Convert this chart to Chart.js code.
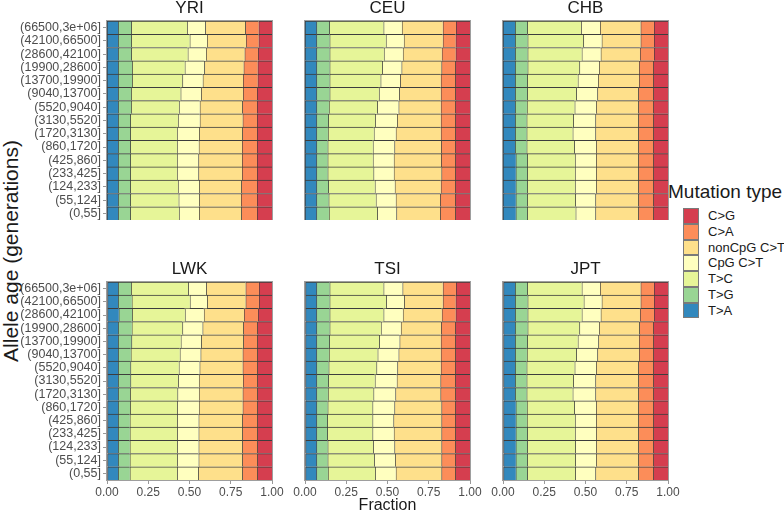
<!DOCTYPE html>
<html><head><meta charset="utf-8">
<script src="https://cdn.jsdelivr.net/npm/chart.js@4.4.0/dist/chart.umd.min.js"></script>
<style>
html,body{margin:0;padding:0;background:#fff;width:784px;height:514px;overflow:hidden;font-family:"Liberation Sans",Arial,sans-serif;}
canvas{display:block;position:absolute;}
.txt{position:absolute;white-space:nowrap;color:#1a1a1a;}
</style></head><body>
<div class="txt" id="ytitle" style="left:10px;top:251px;font-size:21px;line-height:21px;transform:translate(-50%,-50%) rotate(-90deg);">Allele age (generations)</div>
<div id="legend"></div>
<script>
const ageBins = ["(66500,3e+06]","(42100,66500]","(28600,42100]","(19900,28600]","(13700,19900]","(9040,13700]","(5520,9040]","(3130,5520]","(1720,3130]","(860,1720]","(425,860]","(233,425]","(124,233]","(55,124]","(0,55]"];
const mutationTypes = ["T>A","T>G","T>C","CpG C>T","nonCpG C>T","C>A","C>G"];
const typeColors = ["#3288BD","#99D594","#E6F598","#FFFFBF","#FEE08B","#FC8D59","#D53E4F"];
const xTicks = [0, 0.25, 0.5, 0.75, 1];
const populations = ["YRI","CEU","CHB","LWK","TSI","JPT"];

const YRI_TA = [.067,.067,.067,.067,.067,.067,.067,.067,.067,.067,.067,.067,.067,.067,.067];
const YRI_TG = [.080,.080,.080,.085,.085,.079,.079,.074,.074,.074,.074,.074,.074,.074,.074];
const YRI_TC = [.338,.354,.342,.319,.305,.300,.290,.289,.283,.283,.283,.283,.289,.293,.295];
const YRI_CPG = [.111,.105,.111,.119,.123,.124,.126,.132,.134,.132,.130,.130,.128,.124,.122];
const YRI_NONCPG = [.242,.236,.234,.238,.244,.254,.258,.260,.262,.262,.264,.264,.256,.254,.256];
const YRI_CA = [.081,.077,.081,.085,.089,.085,.089,.087,.089,.091,.091,.091,.095,.097,.095];
const YRI_CG = [.081,.081,.085,.087,.087,.091,.091,.091,.091,.091,.091,.091,.091,.091,.091];

const CEU_TA = [.069,.069,.069,.069,.069,.069,.069,.069,.069,.069,.069,.069,.069,.069,.069];
const CEU_TG = [.078,.080,.080,.080,.080,.080,.076,.072,.070,.068,.068,.068,.072,.074,.076];
const CEU_TC = [.329,.341,.329,.319,.309,.299,.293,.284,.278,.274,.274,.278,.282,.286,.293];
const CEU_CPG = [.111,.109,.115,.117,.119,.123,.129,.133,.133,.131,.127,.123,.121,.121,.116];
const CEU_NONCPG = [.248,.236,.236,.242,.246,.252,.256,.265,.273,.283,.287,.289,.279,.269,.265];
const CEU_CA = [.080,.078,.084,.084,.088,.088,.088,.088,.088,.086,.086,.084,.088,.092,.092];
const CEU_CG = [.085,.087,.087,.089,.089,.089,.089,.089,.089,.089,.089,.089,.089,.089,.089];

const CHB_TA = [.073,.073,.073,.073,.073,.073,.073,.073,.073,.073,.077,.077,.077,.077,.077];
const CHB_TG = [.074,.076,.076,.076,.074,.074,.072,.070,.070,.070,.070,.070,.070,.070,.070];
const CHB_TC = [.326,.338,.328,.314,.306,.297,.289,.283,.279,.289,.289,.289,.289,.291,.293];
const CHB_CPG = [.115,.111,.115,.119,.123,.128,.130,.134,.138,.132,.128,.128,.128,.122,.120];
const CHB_NONCPG = [.246,.236,.238,.242,.248,.248,.256,.260,.260,.256,.256,.256,.256,.260,.260];
const CHB_CA = [.081,.081,.085,.087,.087,.091,.091,.091,.091,.091,.091,.091,.091,.091,.091];
const CHB_CG = [.085,.085,.085,.089,.089,.089,.089,.089,.089,.089,.089,.089,.089,.089,.089];

const LWK_TA = [.067,.067,.071,.067,.067,.067,.067,.067,.067,.067,.067,.067,.067,.067,.067];
const LWK_TG = [.079,.083,.081,.083,.081,.077,.075,.075,.073,.073,.071,.071,.071,.071,.071];
const LWK_TC = [.346,.352,.320,.307,.299,.297,.293,.289,.287,.285,.287,.287,.287,.287,.287];
const LWK_CPG = [.109,.105,.115,.122,.124,.126,.126,.126,.130,.132,.130,.130,.130,.130,.128];
const LWK_NONCPG = [.239,.233,.243,.247,.255,.255,.261,.267,.265,.265,.265,.265,.265,.265,.267];
const LWK_CA = [.081,.081,.085,.085,.085,.089,.089,.087,.089,.089,.091,.091,.091,.091,.091];
const LWK_CG = [.079,.079,.085,.089,.089,.089,.089,.089,.089,.089,.089,.089,.089,.089,.089];

const TSI_TA = [.069,.069,.069,.069,.069,.069,.069,.069,.069,.069,.069,.069,.069,.069,.069];
const TSI_TG = [.080,.080,.080,.080,.078,.076,.074,.072,.070,.068,.066,.066,.068,.068,.070];
const TSI_TC = [.327,.343,.327,.311,.303,.295,.290,.282,.276,.272,.274,.274,.276,.282,.286];
const TSI_CPG = [.115,.109,.117,.121,.123,.127,.127,.133,.133,.133,.127,.129,.129,.127,.125];
const TSI_NONCPG = [.244,.234,.236,.244,.250,.256,.263,.265,.273,.285,.291,.289,.285,.281,.277];
const TSI_CA = [.080,.078,.084,.086,.088,.088,.088,.090,.090,.084,.084,.084,.084,.084,.084];
const TSI_CG = [.085,.087,.087,.089,.089,.089,.089,.089,.089,.089,.089,.089,.089,.089,.089];

const JPT_TA = [.073,.073,.073,.073,.073,.073,.073,.073,.073,.077,.077,.077,.077,.077,.077];
const JPT_TG = [.074,.076,.076,.076,.074,.072,.070,.070,.070,.068,.068,.070,.070,.070,.070];
const JPT_TC = [.330,.340,.328,.314,.306,.299,.291,.283,.279,.287,.291,.289,.291,.291,.291];
const JPT_CPG = [.111,.109,.115,.119,.125,.128,.130,.134,.138,.132,.128,.128,.126,.126,.122];
const JPT_NONCPG = [.246,.236,.238,.244,.246,.252,.256,.260,.260,.256,.256,.256,.256,.256,.260];
const JPT_CA = [.081,.081,.085,.085,.087,.087,.091,.091,.091,.091,.091,.091,.091,.091,.091];
const JPT_CG = [.085,.085,.085,.089,.089,.089,.089,.089,.089,.089,.089,.089,.089,.089,.089];

const seriesByPop = {
  YRI:[YRI_TA,YRI_TG,YRI_TC,YRI_CPG,YRI_NONCPG,YRI_CA,YRI_CG],
  CEU:[CEU_TA,CEU_TG,CEU_TC,CEU_CPG,CEU_NONCPG,CEU_CA,CEU_CG],
  CHB:[CHB_TA,CHB_TG,CHB_TC,CHB_CPG,CHB_NONCPG,CHB_CA,CHB_CG],
  LWK:[LWK_TA,LWK_TG,LWK_TC,LWK_CPG,LWK_NONCPG,LWK_CA,LWK_CG],
  TSI:[TSI_TA,TSI_TG,TSI_TC,TSI_CPG,TSI_NONCPG,TSI_CA,TSI_CG],
  JPT:[JPT_TA,JPT_TG,JPT_TC,JPT_CPG,JPT_NONCPG,JPT_CA,JPT_CG]
};

Chart.defaults.font.family = '"Liberation Sans", Arial, sans-serif';

const colLeft = [107, 305, 503];
const panelW = 165;
const rowTop = [21, 282];
const panelH = [199, 198];

const panelBorder = {
  id: 'panelBorder',
  afterDatasetsDraw(chart) {
    const {ctx, chartArea: a} = chart;
    ctx.save();
    ctx.strokeStyle = '#9e9e9e';
    ctx.lineWidth = 1;
    ctx.strokeRect(a.left - 0.5, a.top - 0.5, a.right - a.left + 1, a.bottom - a.top + 1);
    ctx.restore();
  }
};

populations.forEach((pop, i) => {
  const col = i % 3, row = Math.floor(i / 3);
  const isLeft = col === 0, isBottom = row === 1;
  const yAxisW = isLeft ? 107 : 0;
  const padL = isLeft ? 0 : 16, padR = 16;
  const titleH = 21, xAxisH = isBottom ? 34 : 0;
  const W = yAxisW + padL + panelW + padR;
  const H = titleH + panelH[row] + xAxisH;
  const cv = document.createElement('canvas');
  cv.width = W; cv.height = H;
  cv.style.left = (colLeft[col] - yAxisW - padL) + 'px';
  cv.style.top = (rowTop[row] - titleH) + 'px';
  cv.style.width = W + 'px'; cv.style.height = H + 'px';
  document.body.appendChild(cv);
  const series = seriesByPop[pop];
  new Chart(cv, {
    type: 'bar',
    data: {
      labels: ageBins,
      datasets: mutationTypes.map((t, k) => ({
        label: t, data: series[k], backgroundColor: typeColors[k],
        borderColor: '#3d3d3d', borderWidth: {top: 1, left: 1, right: 0, bottom: 0},
        borderSkipped: false, barPercentage: 1, categoryPercentage: 1
      }))
    },
    options: {
      indexAxis: 'y', responsive: false, animation: false, devicePixelRatio: 1, events: [],
      layout: {padding: {left: padL, right: padR, top: 0, bottom: 0}},
      plugins: {
        legend: {display: false}, tooltip: {enabled: false},
        title: {display: true, text: pop, fullSize: false, color: '#1a1a1a',
          font: {size: 17, weight: 'normal', lineHeight: 1}, padding: {top: 0, bottom: 4}}
      },
      scales: {
        x: {
          type: 'linear', stacked: true, min: 0, max: 1, display: isBottom,
          afterBuildTicks: s => { s.ticks = xTicks.map(v => ({value: v})); },
          afterFit: s => { s.height = xAxisH; s.paddingLeft = 0; s.paddingRight = 0; },
          ticks: {callback: v => Number(v).toFixed(2), color: '#4d4d4d', font: {size: 12}, padding: 1, maxRotation: 0, autoSkip: false},
          grid: {drawOnChartArea: false, drawTicks: true, tickLength: 4, color: '#999'},
          border: {display: false},
          title: {display: isBottom && col === 1, text: 'Fraction', color: '#1a1a1a', font: {size: 16, lineHeight: 1}, padding: 0}
        },
        y: {
          type: 'category', stacked: true, display: isLeft, offset: true,
          afterFit: s => { s.width = yAxisW; s.paddingTop = 0; s.paddingBottom = 0; },
          ticks: {color: '#4d4d4d', font: {size: 12.5}, padding: 2, autoSkip: false},
          grid: {offset: false, drawOnChartArea: false, drawTicks: true, tickLength: 4, color: '#999'},
          border: {display: false}
        }
      }
    },
    plugins: [panelBorder]
  });
});

// legend (HTML) built from the named arrays
const lg = document.getElementById('legend');
const lt = document.createElement('div');
lt.className = 'txt';
lt.textContent = 'Mutation type';
lt.style.cssText += 'left:668px;top:181px;font-size:19px;line-height:21px;';
lg.appendChild(lt);
const keyTop = 208, keyH = 15.75;
for (let j = 0; j < mutationTypes.length; j++) {
  const k = mutationTypes.length - 1 - j;
  const box = document.createElement('div');
  box.style.cssText = `position:absolute;left:683px;top:${keyTop + j * keyH}px;width:16px;height:${keyH}px;background:${typeColors[k]};box-sizing:border-box;border:1px solid #7a7a7a;`;
  lg.appendChild(box);
  const lab = document.createElement('div');
  lab.className = 'txt';
  lab.textContent = mutationTypes[k];
  lab.style.cssText += `left:708px;top:${keyTop + j * keyH}px;height:${keyH}px;line-height:${keyH}px;font-size:13px;`;
  lg.appendChild(lab);
}
</script>
</body></html>
